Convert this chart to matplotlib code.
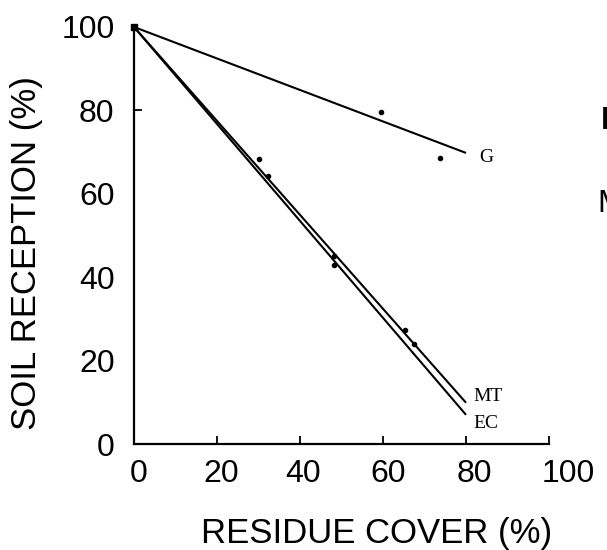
import matplotlib
matplotlib.use("Agg")
import matplotlib.pyplot as plt
import matplotlib.transforms as mtransforms

# ---- data ----
x_ticks = [0, 20, 40, 60, 80, 100]
y_ticks = [0, 20, 40, 60, 80, 100]
x_tick_labels = ["0", "20", "40", "60", "80", "100"]
y_tick_labels = ["0", "20", "40", "60", "80", "100"]

g_line_x = [0, 80]
g_line_y = [100, 69.8]
mt_line_x = [0, 80]
mt_line_y = [100, 9.9]
ec_line_x = [0, 80]
ec_line_y = [100, 7.0]

g_pts_x = [0, 59.4, 73.7]
g_pts_y = [100, 79.6, 68.7]
mt_pts_x = [30.0, 48.3, 65.3]
mt_pts_y = [68.3, 45.0, 27.4]
ec_pts_x = [32.2, 48.3, 67.5]
ec_pts_y = [64.2, 42.9, 24.1]

series_labels = ["G", "MT", "EC"]
x_label = "RESIDUE COVER (%)"
y_label = "SOIL RECEPTION (%)"

# ---- figure ----
W, H = 607, 550
fig = plt.figure(figsize=(W / 100, H / 100), dpi=100)
ax = fig.add_axes([134 / W, 1 - 444 / H, (549 - 134) / W, (444 - 27) / H])

sans = ["Liberation Sans", "DejaVu Sans"]
serif = ["Liberation Serif", "DejaVu Serif"]

lw = 1.5
for xs, ys in [(g_line_x, g_line_y), (mt_line_x, mt_line_y), (ec_line_x, ec_line_y)]:
    ax.plot(xs, ys, color="black", lw=lw, clip_on=False, solid_capstyle="butt")

for xs, ys in [(g_pts_x, g_pts_y), (mt_pts_x, mt_pts_y), (ec_pts_x, ec_pts_y)]:
    ax.plot(xs, ys, ls="none", marker="o", ms=3, color="black", clip_on=False)
ax.plot([0], [100], ls="none", marker="s", ms=5, color="black", clip_on=False)

# line labels
ax.text(83.1, 68.8, series_labels[0], family=serif, fontsize=14, va="center", ha="left")
ax.text(81.7, 11.3, series_labels[1], family=serif, fontsize=14, va="center", ha="left")
ax.text(81.7, 5.0, series_labels[2], family=serif, fontsize=14, va="center", ha="left")

ax.set_xlim(0, 100)
ax.set_ylim(0, 100)
for s in ["top", "right"]:
    ax.spines[s].set_visible(False)
for s in ["left", "bottom"]:
    ax.spines[s].set_linewidth(1.6)

ax.set_xticks(x_ticks)
ax.set_xticklabels(x_tick_labels, family=sans, fontsize=23)
ax.set_yticks(y_ticks)
ax.set_yticklabels(y_tick_labels, family=sans, fontsize=23)
ax.tick_params(axis="x", direction="in", length=6, width=1.3, pad=11)
ax.tick_params(axis="y", direction="in", length=6, width=1.3, pad=14)

# only the 80 tick is visible on y axis in the reference
for t, v in zip(ax.yaxis.get_major_ticks(), y_ticks):
    if v != 80:
        t.tick1line.set_visible(False)
ax.xaxis.get_major_ticks()[0].tick1line.set_visible(False)

# tick label shifts
shifts = [5, 4, 3, 5, 8, 19]
for lab, dx in zip(ax.get_xticklabels(), shifts):
    lab.set_transform(lab.get_transform() + mtransforms.ScaledTranslation(dx / 100, 0, fig.dpi_scale_trans))

fig.text(377 / W, 1 - 534 / H, x_label, family=sans, fontsize=25, ha="center", va="center")
fig.text(27 / W, 1 - 253 / H, y_label, family=sans, fontsize=25, ha="center", va="center", rotation=90)

# clipped letters from the neighbouring panel
fig.text(601 / W, 1 - 121 / H, "I", family=sans, fontsize=23, fontweight="bold", ha="left", va="center")
fig.text(597 / W, 1 - 204 / H, "M", family=sans, fontsize=23, ha="left", va="center")

fig.savefig("out.png", dpi=100)
